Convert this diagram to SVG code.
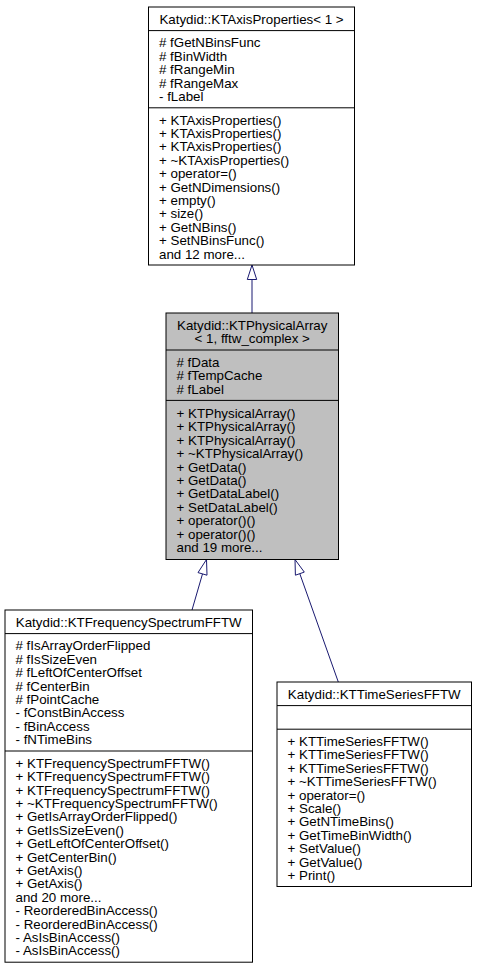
<svg xmlns="http://www.w3.org/2000/svg" width="477" height="967" viewBox="0 0 477 967">
<style>
rect.box{fill:#ffffff;stroke:#000000;stroke-width:1}
rect.hl{fill:#bfbfbf}
line.div{stroke:#000000;stroke-width:1}
text{font-family:"Liberation Sans",Arial,Helvetica,sans-serif;font-size:13.33px;fill:#000000}
text.c{text-anchor:middle}
.edge{stroke:#191970;stroke-width:1;fill:none}
.ah{fill:#ffffff;stroke:#191970;stroke-width:1}
</style>
<rect width="477" height="967" fill="#ffffff"/>
<g id="connectors">
  <line class="edge" x1="252" y1="313" x2="252" y2="279.5"/>
  <polygon class="ah" points="252,265 247.3,279.5 256.7,279.5"/>
  <line class="edge" x1="192" y1="610" x2="202.5" y2="573.9"/>
  <polygon class="ah" points="206.5,559.5 207,575.2 198,572.6"/>
  <line class="edge" x1="338.3" y1="682" x2="299.8" y2="573.7"/>
  <polygon class="ah" points="295,559.5 304.3,572.1 295.4,575.2"/>
</g>
<g id="node-axisproperties">
  <rect class="box" x="148.5" y="7" width="206" height="258"/>
  <line class="div" x1="148.5" y1="30.6" x2="354.5" y2="30.6"/>
  <line class="div" x1="148.5" y1="107.8" x2="354.5" y2="107.8"/>
  <text class="c" x="251.5" y="23.8">Katydid::KTAxisProperties&lt; 1 &gt;</text>
  <text x="159"><tspan x="159" y="47.4"># fGetNBinsFunc</tspan><tspan x="159" y="60.8"># fBinWidth</tspan><tspan x="159" y="74.2"># fRangeMin</tspan><tspan x="159" y="87.6"># fRangeMax</tspan><tspan x="159" y="101">- fLabel</tspan></text>
  <text x="159"><tspan x="159" y="124.6">+ KTAxisProperties()</tspan><tspan x="159" y="138">+ KTAxisProperties()</tspan><tspan x="159" y="151.4">+ KTAxisProperties()</tspan><tspan x="159" y="164.8">+ ~KTAxisProperties()</tspan><tspan x="159" y="178.2">+ operator=()</tspan><tspan x="159" y="191.6">+ GetNDimensions()</tspan><tspan x="159" y="205">+ empty()</tspan><tspan x="159" y="218.4">+ size()</tspan><tspan x="159" y="231.8">+ GetNBins()</tspan><tspan x="159" y="245.2">+ SetNBinsFunc()</tspan><tspan x="159" y="258.6">and 12 more...</tspan></text>
</g>
<g id="node-physicalarray">
  <rect class="box hl" x="166" y="313" width="172.5" height="246.5"/>
  <line class="div" x1="166" y1="350" x2="338.5" y2="350"/>
  <line class="div" x1="166" y1="400.4" x2="338.5" y2="400.4"/>
  <text class="c" x="252.25"><tspan x="252.25" y="329.8">Katydid::KTPhysicalArray</tspan><tspan x="252.25" y="343.2">&lt; 1, fftw_complex &gt;</tspan></text>
  <text x="176.5"><tspan x="176.5" y="366.8"># fData</tspan><tspan x="176.5" y="380.2"># fTempCache</tspan><tspan x="176.5" y="393.6"># fLabel</tspan></text>
  <text x="176.5"><tspan x="176.5" y="418">+ KTPhysicalArray()</tspan><tspan x="176.5" y="431.4">+ KTPhysicalArray()</tspan><tspan x="176.5" y="444.8">+ KTPhysicalArray()</tspan><tspan x="176.5" y="458.2">+ ~KTPhysicalArray()</tspan><tspan x="176.5" y="471.6">+ GetData()</tspan><tspan x="176.5" y="485">+ GetData()</tspan><tspan x="176.5" y="498.4">+ GetDataLabel()</tspan><tspan x="176.5" y="511.8">+ SetDataLabel()</tspan><tspan x="176.5" y="525.2">+ operator()()</tspan><tspan x="176.5" y="538.6">+ operator()()</tspan><tspan x="176.5" y="552">and 19 more...</tspan></text>
</g>
<g id="node-frequencyspectrumfftw">
  <rect class="box" x="5" y="610" width="247.5" height="352.2"/>
  <line class="div" x1="5" y1="633.6" x2="252.5" y2="633.6"/>
  <line class="div" x1="5" y1="751" x2="252.5" y2="751"/>
  <text class="c" x="128.75" y="626.8">Katydid::KTFrequencySpectrumFFTW</text>
  <text x="15.5"><tspan x="15.5" y="650.4"># fIsArrayOrderFlipped</tspan><tspan x="15.5" y="663.8"># fIsSizeEven</tspan><tspan x="15.5" y="677.2"># fLeftOfCenterOffset</tspan><tspan x="15.5" y="690.6"># fCenterBin</tspan><tspan x="15.5" y="704"># fPointCache</tspan><tspan x="15.5" y="717.4">- fConstBinAccess</tspan><tspan x="15.5" y="730.8">- fBinAccess</tspan><tspan x="15.5" y="744.2">- fNTimeBins</tspan></text>
  <text x="15.5"><tspan x="15.5" y="767.8">+ KTFrequencySpectrumFFTW()</tspan><tspan x="15.5" y="781.2">+ KTFrequencySpectrumFFTW()</tspan><tspan x="15.5" y="794.6">+ KTFrequencySpectrumFFTW()</tspan><tspan x="15.5" y="808">+ ~KTFrequencySpectrumFFTW()</tspan><tspan x="15.5" y="821.4">+ GetIsArrayOrderFlipped()</tspan><tspan x="15.5" y="834.8">+ GetIsSizeEven()</tspan><tspan x="15.5" y="848.2">+ GetLeftOfCenterOffset()</tspan><tspan x="15.5" y="861.6">+ GetCenterBin()</tspan><tspan x="15.5" y="875">+ GetAxis()</tspan><tspan x="15.5" y="888.4">+ GetAxis()</tspan><tspan x="15.5" y="901.8">and 20 more...</tspan><tspan x="15.5" y="915.2">- ReorderedBinAccess()</tspan><tspan x="15.5" y="928.6">- ReorderedBinAccess()</tspan><tspan x="15.5" y="942">- AsIsBinAccess()</tspan><tspan x="15.5" y="955.4">- AsIsBinAccess()</tspan></text>
</g>
<g id="node-timeseriesfftw">
  <rect class="box" x="277" y="682" width="194.5" height="204.5"/>
  <line class="div" x1="277" y1="705.6" x2="471.5" y2="705.6"/>
  <line class="div" x1="277" y1="729.2" x2="471.5" y2="729.2"/>
  <text class="c" x="374.25" y="698.8">Katydid::KTTimeSeriesFFTW</text>
  <text x="287.5"><tspan x="287.5" y="746">+ KTTimeSeriesFFTW()</tspan><tspan x="287.5" y="759.4">+ KTTimeSeriesFFTW()</tspan><tspan x="287.5" y="772.8">+ KTTimeSeriesFFTW()</tspan><tspan x="287.5" y="786.2">+ ~KTTimeSeriesFFTW()</tspan><tspan x="287.5" y="799.6">+ operator=()</tspan><tspan x="287.5" y="813">+ Scale()</tspan><tspan x="287.5" y="826.4">+ GetNTimeBins()</tspan><tspan x="287.5" y="839.8">+ GetTimeBinWidth()</tspan><tspan x="287.5" y="853.2">+ SetValue()</tspan><tspan x="287.5" y="866.6">+ GetValue()</tspan><tspan x="287.5" y="880">+ Print()</tspan></text>
</g>
</svg>
